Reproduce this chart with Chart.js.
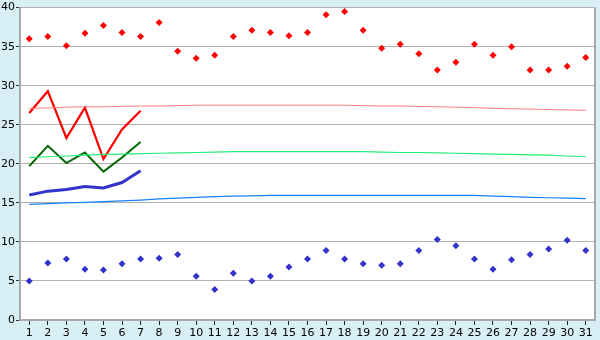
<!DOCTYPE html>
<html>
<head>
<meta charset="utf-8">
<script src="https://cdn.jsdelivr.net/npm/chart.js@4/dist/chart.umd.min.js"></script>
<style>
html,body{margin:0;padding:0;background:#d8eff6;}
#wrap{width:600px;height:340px;position:relative;}
</style>
</head>
<body>
<div id="wrap"><canvas id="c" width="600" height="340"></canvas></div>
<script>
const days = Array.from({length:31},(_,i)=>String(i+1));
const yTicks = [0,5,10,15,20,25,30,35,40];

const recordMax = [36.0,36.3,35.1,36.7,37.7,36.8,36.3,38.1,34.4,33.5,33.9,36.3,37.1,36.8,36.4,36.8,39.1,39.5,37.1,34.8,35.3,34.1,32.0,33.0,35.3,33.9,35.0,32.0,32.0,32.5,33.6];
const recordMin = [5.0,7.3,7.8,6.5,6.4,7.2,7.8,7.9,8.4,5.6,3.9,6.0,5.0,5.6,6.8,7.8,8.9,7.8,7.2,7.0,7.2,8.9,10.3,9.5,7.8,6.5,7.7,8.4,9.1,10.2,8.9];

const obsMax  = [26.5,29.3,23.3,27.2,20.6,24.4,26.8];
const obsMean = [19.7,22.3,20.1,21.45,19.0,20.8,22.8];
const obsMin  = [16.0,16.5,16.7,17.1,16.9,17.6,19.1];

const normMax  = [27.1,27.15,27.25,27.3,27.3,27.35,27.4,27.4,27.45,27.5,27.5,27.5,27.5,27.5,27.5,27.5,27.5,27.5,27.45,27.4,27.4,27.35,27.3,27.25,27.2,27.1,27.05,27.0,26.95,26.9,26.85];
const normMean = [20.8,20.9,21.0,21.1,21.2,21.25,21.3,21.35,21.4,21.45,21.5,21.55,21.55,21.55,21.55,21.55,21.55,21.55,21.55,21.5,21.45,21.45,21.4,21.35,21.3,21.25,21.2,21.15,21.1,21.0,20.9];
const normMin  = [14.8,14.9,15.0,15.05,15.15,15.25,15.35,15.5,15.6,15.7,15.8,15.85,15.9,15.95,15.95,15.95,15.95,15.95,15.95,15.95,15.95,15.95,15.95,15.95,15.95,15.85,15.8,15.7,15.65,15.6,15.55];

const frame = {
  id:'frame',
  beforeDraw(chart){
    const {ctx, chartArea:a} = chart;
    ctx.save();
    ctx.fillStyle = '#d8eff6';
    ctx.fillRect(0,0,chart.width,chart.height);
    ctx.fillStyle = '#ffffff';
    ctx.fillRect(a.left,a.top,a.right-a.left,a.bottom-a.top);
    ctx.restore();
  },
  afterDraw(chart){
    const {ctx, chartArea:a} = chart;
    ctx.save();
    ctx.strokeStyle = '#a8a8a8';
    ctx.lineWidth = 2;
    ctx.beginPath();
    ctx.moveTo(a.right, a.top);
    ctx.lineTo(a.right, a.bottom);
    ctx.stroke();
    ctx.restore();
  }
};

const lineDs = (label,data,color,width)=>({type:'line',label,data,borderColor:color,backgroundColor:color,borderWidth:width,pointRadius:0,tension:0,fill:false});
const ptDs = (label,data,color)=>({type:'line',label,data,showLine:false,borderColor:color,backgroundColor:color,pointStyle:'rectRot',pointRadius:3.5,pointBorderWidth:0});

new Chart(document.getElementById('c'),{
  type:'line',
  data:{
    labels:days,
    datasets:[
      lineDs('Normal max',normMax,'#ff8080',1),
      lineDs('Normal mean',normMean,'#22ee77',1.2),
      lineDs('Normal min',normMin,'#1a80ff',1.2),
      lineDs('Max',obsMax,'#ff0000',2.2),
      lineDs('Mean',obsMean,'#006600',2),
      lineDs('Min',obsMin,'#3333cc',3),
      ptDs('Record max',recordMax,'#ff0000'),
      ptDs('Record min',recordMin,'#3333cc')
    ]
  },
  options:{
    responsive:false,
    animation:false,
    events:[],
    layout:{padding:{top:5,right:5,left:0,bottom:0}},
    plugins:{legend:{display:false},tooltip:{enabled:false}},
    scales:{
      x:{
        offset:true,
        grid:{drawOnChartArea:false,drawTicks:true,tickLength:5,tickColor:'#222',offset:false},
        border:{color:'#a8a8a8',width:2},
        ticks:{color:'#000',font:{family:'DejaVu Sans',size:11},maxRotation:0,autoSkip:false,padding:2},
        afterFit(s){s.height=20;}
      },
      y:{
        min:0,max:40,
        afterBuildTicks(s){s.ticks = yTicks.map(v=>({value:v}));},
        grid:{color:'#b0b0b0',lineWidth:1,tickLength:4,tickColor:'#333'},
        border:{color:'#a8a8a8',width:2},
        ticks:{color:'#000',font:{family:'DejaVu Sans',size:11},padding:1},
        afterFit(s){s.width=20;}
      }
    }
  },
  plugins:[frame]
});
</script>
</body>
</html>
